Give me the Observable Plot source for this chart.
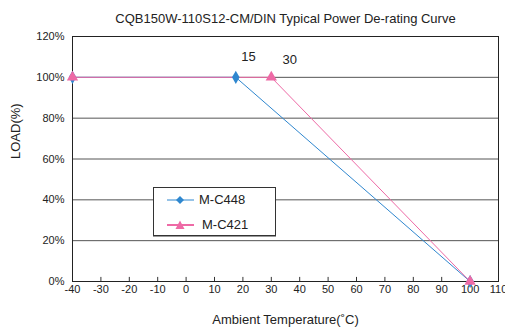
<!DOCTYPE html>
<html><head><meta charset="utf-8">
<script src="https://cdn.jsdelivr.net/npm/d3@7"></script>
<script src="https://cdn.jsdelivr.net/npm/@observablehq/plot@0.6"></script>
<style>
html,body{margin:0;padding:0;background:#fff;}
#wrap{position:relative;width:505px;height:334px;font-family:"Liberation Sans",Arial,sans-serif;}
#legend{position:absolute;left:153px;top:187px;width:121px;height:47px;border:1px solid #333;background:#fff;box-shadow:0 1px 0 #999;}
.li{position:absolute;left:13px;font-size:13px;color:#222;display:flex;align-items:center;}
.li svg{margin-right:5px;}
</style>
</head><body>
<div id="wrap"></div>
<script>
const title = "CQB150W-110S12-CM/DIN Typical Power De-rating Curve";
const xLabel = "Ambient Temperature(˚C)";
const yLabel = "LOAD(%)";
const xTicks = [-40,-30,-20,-10,0,10,20,30,40,50,60,70,80,90,100,110];
const yTicks = [0,20,40,60,80,100,120];
const seriesNames = ["M-C448","M-C421"];
const colors = ["#2f87cf","#ee6aa6"];
const tempA = [-40, 17.5, 100];
const loadA = [100, 100, 0];
const tempB = [-40, 30, 100];
const loadB = [100, 100, 0];
const noteText = ["15","30"];
const noteX = [22, 36.5];
const noteY = [109.8, 108.8];

const A = tempA.map((t,i)=>({t, l: loadA[i]}));
const B = tempB.map((t,i)=>({t, l: loadB[i]}));
const notes = noteText.map((s,i)=>({s, x: noteX[i], y: noteY[i]}));

const chart = Plot.plot({
  width: 505, height: 334,
  marginLeft: 72, marginRight: 7, marginTop: 36, marginBottom: 53,
  style: {fontFamily: '"Liberation Sans", Arial, sans-serif', fontSize: "11px", color: "#222", background: "#fff"},
  x: {domain: [-40, 110]},
  y: {domain: [0, 120]},
  marks: [
    Plot.ruleY(yTicks.filter(v => v > 0 && v < 120), {stroke: "#555", strokeWidth: 1}),
    Plot.frame({stroke: "#222", strokeWidth: 1}),
    Plot.ruleX(xTicks.slice(1, -1), {y1: 0, y2: 2, stroke: "#333", strokeWidth: 1}),
    Plot.axisX(xTicks, {tickSize: 0, tickPadding: 4, tickFormat: d => String(d), fontSize: 11}),
    Plot.axisY(yTicks, {tickSize: 0, tickPadding: 8, tickFormat: d => d + "%", fontSize: 11}),
    Plot.text([xLabel], {frameAnchor: "bottom", dy: 42, fontSize: 13, fill: "#222"}),
    Plot.text([yLabel], {frameAnchor: "left", dx: -57, rotate: -90, fontSize: 13, fill: "#222"}),
    Plot.text([title], {frameAnchor: "top", dy: -23, fontSize: 13, fill: "#222"}),
    Plot.line(A, {x: "t", y: "l", stroke: colors[0], strokeWidth: 1}),
    Plot.line(B, {x: "t", y: "l", stroke: colors[1], strokeWidth: 1}),
    Plot.dot(A, {x: "t", y: "l", symbol: "diamond", r: 4, fill: colors[0], stroke: "none"}),
    Plot.dot(B, {x: "t", y: "l", symbol: "triangle", r: 4.2, fill: colors[1], stroke: "none"}),
    Plot.text(notes, {x: "x", y: "y", text: "s", fontSize: 13, fill: "#222"})
  ]
});
const wrap = document.getElementById("wrap");
wrap.appendChild(chart);

const legend = document.createElement("div");
legend.id = "legend";
const syms = [
  '<polygon points="13,2 17,6 13,10 9,6" fill="'+colors[0]+'"/>',
  '<polygon points="13,1.5 17.5,10 8.5,10" fill="'+colors[1]+'"/>'
];
seriesNames.forEach((name, i) => {
  const d = document.createElement("div");
  d.className = "li";
  d.style.top = (i === 0 ? 4 : 29) + "px";
  d.innerHTML = '<svg width="27" height="12"><line x1="0" x2="27" y1="6" y2="6" stroke="'+colors[i]+'" stroke-width="'+(i?2:1)+'"/>'+syms[i]+'</svg><span style="margin-left:'+(i?3:0)+'px">'+name+'</span>';
  legend.appendChild(d);
});
wrap.appendChild(legend);
</script>
</body></html>
